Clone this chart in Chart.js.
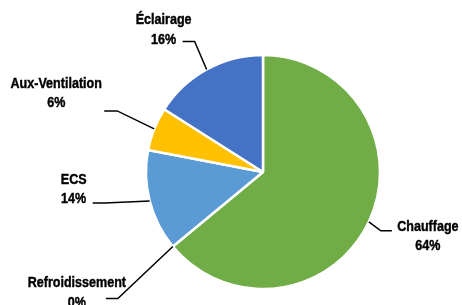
<!DOCTYPE html>
<html>
<head>
<meta charset="utf-8">
<script src="https://cdn.jsdelivr.net/npm/chart.js@4/dist/chart.umd.min.js"></script>
<style>
html,body{margin:0;padding:0;background:#fff;}
#wrap{width:462px;height:305px;}
</style>
</head>
<body>
<div id="wrap"><canvas id="c" width="462" height="305"></canvas></div>
<script>
// Data
const categories = ["Chauffage", "Refroidissement", "ECS", "Aux-Ventilation", "Éclairage"];
const values = [64, 0, 14, 6, 16];
const percentLabels = ["64%", "0%", "14%", "6%", "16%"];
const colors = ["#70AD47", "#70AD47", "#5B9BD5", "#FFC000", "#4472C4"];

// Label layout (label center relative to arc edge point; leader attach relative to label center; elbow length)
const labelLayout = [
  {dx: 59, dy: 13, ax: -36, ay: -4, elbow: -11},
  {dx: -96, dy: 45, ax: 29, ay: 7, elbow: 12},
  {dx: -76, dy: -13, ax: 19, ay: 15, elbow: 12},
  {dx: -98, dy: -37, ax: 48, ay: 19, elbow: 13},
  {dx: -43, dy: -41, ax: 19, ay: 13, elbow: 12}
];

const FONT_SIZE = 15.5;
const X_SCALE = 0.81;

function drawText(ctx, text, cx, cy) {
  ctx.save();
  ctx.translate(cx, cy + FONT_SIZE * 0.358);
  ctx.scale(X_SCALE, 1);
  ctx.lineWidth = 0.45;
  ctx.strokeStyle = '#000';
  ctx.fillText(text, 0, 0);
  ctx.strokeText(text, 0, 0);
  ctx.restore();
}

const labelPlugin = {
  id: 'pieLabels',
  afterDatasetsDraw(chart) {
    const ctx = chart.ctx;
    const meta = chart.getDatasetMeta(0);
    ctx.save();
    meta.data.forEach((arc, i) => {
      const p = arc.getProps(['x','y','startAngle','endAngle','outerRadius'], true);
      const mid = (p.startAngle + p.endAngle) / 2;
      const ex = p.x + Math.cos(mid) * p.outerRadius;
      const ey = p.y + Math.sin(mid) * p.outerRadius;
      const L = labelLayout[i];
      const lx = ex + L.dx, ly = ey + L.dy;
      const axp = lx + L.ax, ayp = ly + L.ay;
      ctx.strokeStyle = '#000';
      ctx.lineWidth = 1.5;
      ctx.beginPath();
      ctx.moveTo(ex, ey);
      ctx.lineTo(axp + L.elbow, ayp);
      ctx.lineTo(axp, ayp);
      ctx.stroke();
      ctx.fillStyle = '#000';
      ctx.font = 'bold ' + FONT_SIZE + 'px "Liberation Sans", Arial, sans-serif';
      ctx.textAlign = 'center';
      ctx.textBaseline = 'alphabetic';
      drawText(ctx, categories[i], lx, ly - 9.7);
      drawText(ctx, percentLabels[i], lx, ly + 9.7);
    });
    ctx.restore();
  }
};

new Chart(document.getElementById('c'), {
  type: 'pie',
  data: {
    labels: categories,
    datasets: [{
      data: values,
      backgroundColor: colors,
      borderColor: '#ffffff',
      borderWidth: 2.5
    }]
  },
  options: {
    responsive: false,
    animation: false,
    devicePixelRatio: 1,
    radius: 117,
    layout: {padding: {left: 100, right: 36, top: 50, bottom: 11}},
    plugins: {legend: {display: false}, tooltip: {enabled: false}}
  },
  plugins: [labelPlugin]
});
</script>
</body>
</html>
